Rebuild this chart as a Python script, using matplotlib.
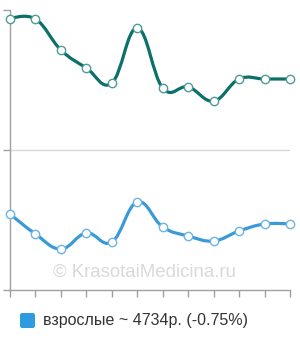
import numpy as np
import matplotlib
matplotlib.use('Agg')
import matplotlib.pyplot as plt
from matplotlib.path import Path
from matplotlib.patches import PathPatch, FancyBboxPatch

# values (arbitrary units, axis 0..280)
months = list(range(12))
top_vals = [271, 271, 240, 222, 207, 262, 202, 203, 189, 211, 211, 211]
adult_vals = [76, 56, 41, 57, 48, 88, 63, 54, 49, 59, 66, 66]
legend_label = 'взрослые ~ 4734р. (-0.75%)'
watermark = '© KrasotaiMedicina.ru'

top_color = '#0b6f6a'
top_marker_edge = '#4e9c98'
adult_color = '#3a9ad9'
adult_marker_edge = '#6cb4e4'


def spline_path(xs, ys, smoothing=1.5):
    # spline made of cubic bezier segments, control points smoothed from
    # the neighbours (no clamping, so small overshoots happen like in the ref)
    denom = smoothing + 1
    n = len(xs)
    left = [None] * n
    right = [None] * n
    for i in range(n):
        x, y = xs[i], ys[i]
        if 0 < i < n - 1:
            lx, ly = xs[i - 1], ys[i - 1]
            nx, ny = xs[i + 1], ys[i + 1]
            lcx = (smoothing * x + lx) / denom
            lcy = (smoothing * y + ly) / denom
            rcx = (smoothing * x + nx) / denom
            rcy = (smoothing * y + ny) / denom
            corr = (rcy - lcy) * (rcx - x) / (rcx - lcx) + y - rcy
            left[i] = (lcx, lcy + corr)
            right[i] = (rcx, rcy + corr)
        else:
            left[i] = (x, y)
            right[i] = (x, y)
    verts = [(xs[0], ys[0])]
    codes = [Path.MOVETO]
    for i in range(1, n):
        verts += [right[i - 1], left[i], (xs[i], ys[i])]
        codes += [Path.CURVE4] * 3
    return Path(verts, codes)


fig = plt.figure(figsize=(3.0, 3.4), dpi=100)
ax = fig.add_axes([10 / 300, 50 / 340, 280 / 300, 280 / 340])
ax.set_xlim(0, 11)
ax.set_ylim(0, 280)

ax.axhline(140, color='#d8d8d8', lw=1, zorder=0)

for vals, col, edge in [(top_vals, top_color, top_marker_edge),
                        (adult_vals, adult_color, adult_marker_edge)]:
    p = spline_path(months, vals)
    ax.add_patch(PathPatch(p, fill=False, edgecolor=col, lw=2.3,
                           capstyle='round', joinstyle='round', zorder=2))
    ax.plot(months, vals, ls='None', marker='o', ms=6, mfc='white',
            mec=edge, mew=1.0, zorder=3, clip_on=False)

ax.text(5.3, 18, watermark, ha='center', va='center', fontsize=13.4,
        color='#d9d9d9', family=['Liberation Sans', 'DejaVu Sans'], zorder=1)

for s in ['top', 'right']:
    ax.spines[s].set_visible(False)
for s in ['left', 'bottom']:
    ax.spines[s].set_color('#a0a0a0')
    ax.spines[s].set_linewidth(1)
ax.set_xticks(months)
ax.set_yticks([0, 140, 280])
ax.tick_params(colors='#a0a0a0', length=5, width=1, labelleft=False,
               labelbottom=False)

# legend
fig.patches.append(FancyBboxPatch((20 / 300, 1 - 328 / 340), 15 / 300, 15 / 340,
                                  boxstyle='round,pad=0,rounding_size=0.007',
                                  transform=fig.transFigure, facecolor='#2e9be0',
                                  edgecolor='none'))
fig.text(43 / 300, 1 - 320 / 340, legend_label, ha='left', va='center',
         fontsize=11.5, color='#333333', family=['Liberation Sans', 'DejaVu Sans'])

fig.savefig('out.png', dpi=100)
